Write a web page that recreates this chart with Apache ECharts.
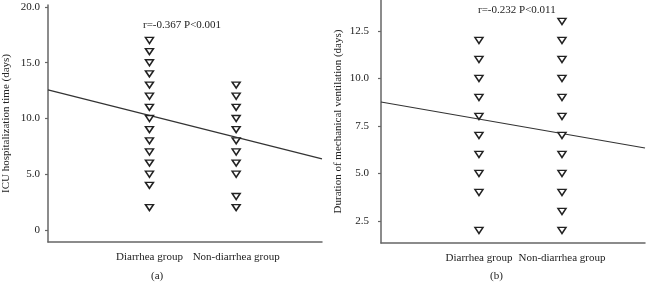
<!DOCTYPE html>
<html>
<head>
<meta charset="utf-8">
<script src="https://cdn.jsdelivr.net/npm/echarts@6/dist/echarts.min.js"></script>
<style>
  html, body { margin: 0; padding: 0; background: #fff; }
  #chart { width: 657px; height: 284px; }
</style>
</head>
<body>
<div id="chart"></div>
<script>
// group names on the x axis
const groups = ["Diarrhea group", "Non-diarrhea group"];

// (a) ICU hospitalization time (days)
const icuDiarrhea = [17, 16, 15, 14, 13, 12, 11, 10, 9, 8, 7, 6, 5, 4, 2];
const icuNonDiarrhea = [13, 12, 11, 10, 9, 8, 7, 6, 5, 3, 2];
const icuFit = [[-0.17, 12.56], [2.99, 6.37]]; // fitted line, end points
const icuTicks = [0, 5, 10, 15, 20];

// (b) duration of mechanical ventilation (days)
const mvDiarrhea = [12, 11, 10, 9, 8, 7, 6, 5, 4, 2];
const mvNonDiarrhea = [13, 12, 11, 10, 9, 8, 7, 6, 5, 4, 3, 2];
const mvFit = [[-0.18, 8.76], [3.0, 6.34]];
const mvTicks = [2.5, 5, 7.5, 10, 12.5];

const font = "'Liberation Serif', 'DejaVu Serif', serif";
const axisColor = "#666";
const textColor = "#222";

const chart = echarts.init(document.getElementById("chart"));

// points of one group -> [x, y]
function pts(values, pos) {
  return values.map(function (v) { return [pos, v]; });
}

function xAxisFor(gridIndex, min, max) {
  return {
    gridIndex: gridIndex,
    type: "value",
    min: min,
    max: max,
    splitLine: { show: false },
    axisTick: { show: false },
    axisLine: { show: true, onZero: false, lineStyle: { color: axisColor, width: 1.5 } },
    axisLabel: {
      customValues: [1, 2],
      formatter: function (v) { return groups[v - 1]; },
      margin: 10,
      color: textColor,
      fontFamily: font,
      fontSize: 11,
    },
  };
}

function yAxisFor(gridIndex, min, max, ticks, name, gap, margin) {
  return {
    gridIndex: gridIndex,
    type: "value",
    min: min,
    max: max,
    name: name,
    nameLocation: "middle",
    nameGap: gap,
    nameTextStyle: { color: textColor, fontFamily: font, fontSize: 11 },
    splitLine: { show: false },
    axisLine: { show: true, onZero: false, lineStyle: { color: axisColor, width: 1.5 } },
    axisTick: {
      show: true,
      length: 3,
      customValues: ticks,
      lineStyle: { color: axisColor, width: 1.2 },
    },
    axisLabel: {
      customValues: ticks,
      formatter: function (v) { return v === 0 ? "0" : v.toFixed(1); },
      margin: margin,
      color: textColor,
      fontFamily: font,
      fontSize: 11,
    },
  };
}

function scatter(idx, data) {
  return {
    type: "scatter",
    xAxisIndex: idx,
    yAxisIndex: idx,
    data: data,
    symbol: "triangle",
    symbolRotate: 180,
    symbolSize: [8, 6],
    itemStyle: { color: "#fff", borderColor: "#222", borderWidth: 1.5, opacity: 1 },
    z: 3,
  };
}

function fitLine(idx, data) {
  return {
    type: "line",
    xAxisIndex: idx,
    yAxisIndex: idx,
    data: data,
    showSymbol: false,
    lineStyle: { color: "#333", width: 1.2 },
    z: 2,
  };
}

const option = {
  backgroundColor: "#fff",
  animation: false,
  grid: [
    { left: 44, top: 5, width: 278, height: 237 },
    { left: 381, top: 0, width: 264, height: 243 },
  ],
  xAxis: [xAxisFor(0, -0.17, 2.99), xAxisFor(1, -0.18, 3.0)],
  yAxis: [
    yAxisFor(0, -1.08, 20.18, icuTicks, "ICU hospitalization time (days)", 36, 8),
    yAxisFor(1, 1.34, 14.13, mvTicks, "Duration of mechanical ventilation (days)", 37, 12),
  ],
  series: [
    fitLine(0, icuFit),
    scatter(0, pts(icuDiarrhea, 1)),
    scatter(0, pts(icuNonDiarrhea, 2)),
    fitLine(1, mvFit),
    scatter(1, pts(mvDiarrhea, 1)),
    scatter(1, pts(mvNonDiarrhea, 2)),
  ],
  graphic: [
    {
      type: "text", left: 143, top: 20,
      style: { text: "r=-0.367 P<0.001", fill: textColor, font: "11px " + font },
    },
    {
      type: "text", left: 478, top: 5,
      style: { text: "r=-0.232 P<0.011", fill: textColor, font: "11px " + font },
    },
    {
      type: "text", left: 151, top: 271,
      style: { text: "(a)", fill: textColor, font: "11px " + font },
    },
    {
      type: "text", left: 490, top: 271,
      style: { text: "(b)", fill: textColor, font: "11px " + font },
    },
  ],
};

chart.setOption(option);
</script>
</body>
</html>
